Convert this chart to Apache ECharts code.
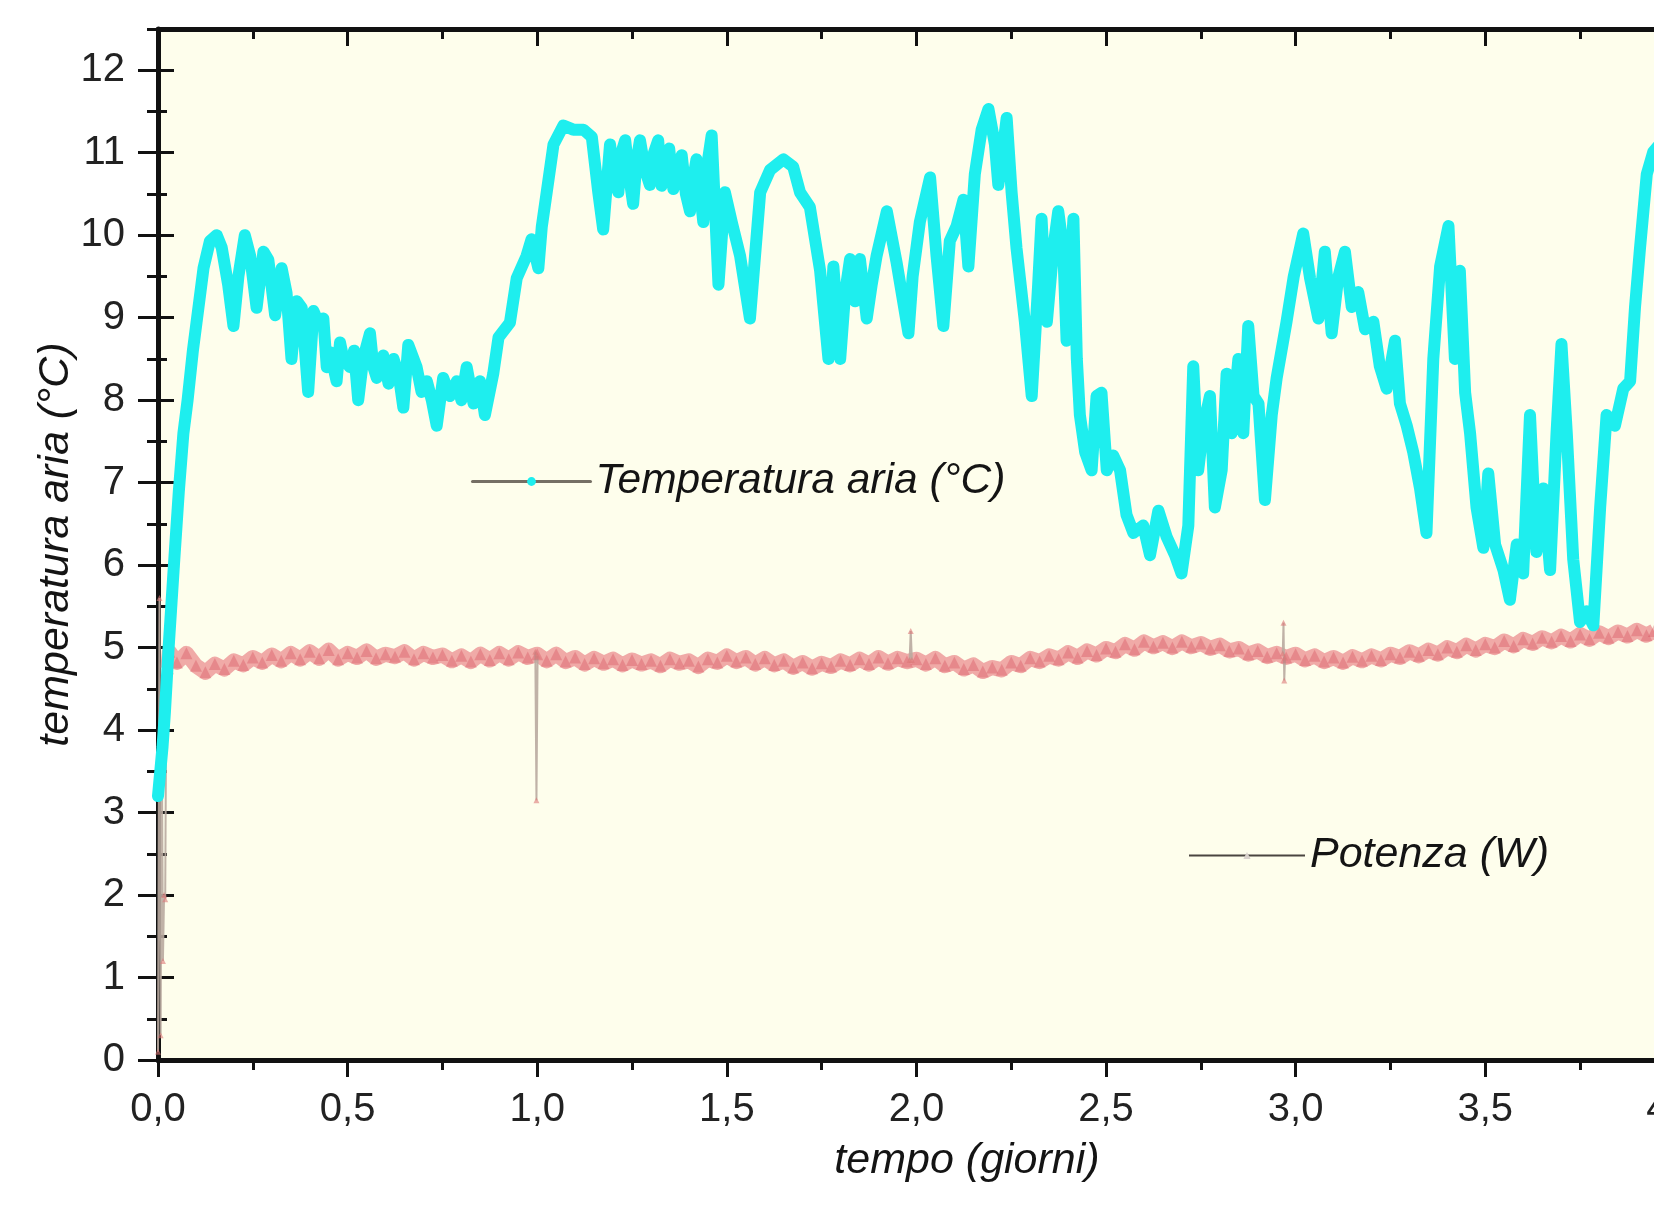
<!DOCTYPE html>
<html>
<head>
<meta charset="utf-8">
<script src="https://cdn.jsdelivr.net/npm/echarts@6/dist/echarts.min.js"></script>
<style>
  html, body { margin: 0; padding: 0; background: #fff; }
  #main { width: 1654px; height: 1206px; }
</style>
</head>
<body>
<div id="main"></div>
<script>
// temperatura aria (°C): [tempo in giorni, valore]
var temperatura = [
  [0.000, 3.2], [0.006, 3.5], [0.012, 3.8], [0.018, 4.2], [0.028, 5.0], [0.042, 6.0],
  [0.055, 6.9], [0.067, 7.6], [0.078, 8.0], [0.092, 8.6], [0.106, 9.1], [0.120, 9.6],
  [0.137, 9.93], [0.155, 10.0], [0.168, 9.85], [0.185, 9.4], [0.199, 8.9], [0.212, 9.5],
  [0.229, 10.0], [0.243, 9.75], [0.260, 9.12], [0.278, 9.8], [0.291, 9.7], [0.309, 9.03],
  [0.326, 9.6], [0.339, 9.3], [0.352, 8.5], [0.366, 9.2], [0.379, 9.12], [0.396, 8.1],
  [0.410, 9.08], [0.423, 8.94], [0.436, 8.99], [0.445, 8.4], [0.454, 8.58], [0.471, 8.23],
  [0.480, 8.7], [0.489, 8.5], [0.506, 8.4], [0.517, 8.6], [0.528, 8.0], [0.541, 8.5],
  [0.559, 8.81], [0.568, 8.4], [0.577, 8.27], [0.594, 8.54], [0.608, 8.2], [0.621, 8.5],
  [0.635, 8.3], [0.647, 7.91], [0.660, 8.67], [0.682, 8.4], [0.695, 8.1], [0.709, 8.23],
  [0.722, 8.0], [0.735, 7.69], [0.752, 8.27], [0.770, 8.05], [0.788, 8.23], [0.800, 8.0],
  [0.814, 8.4], [0.832, 7.96], [0.849, 8.23], [0.862, 7.82], [0.884, 8.32], [0.898, 8.76],
  [0.928, 8.94], [0.946, 9.48], [0.972, 9.75], [0.985, 9.95], [1.003, 9.6], [1.012, 10.1],
  [1.025, 10.52], [1.043, 11.1], [1.069, 11.33], [1.095, 11.28], [1.122, 11.28], [1.144, 11.19],
  [1.161, 10.52], [1.174, 10.07], [1.192, 11.1], [1.203, 10.7], [1.214, 10.52], [1.222, 11.0],
  [1.232, 11.15], [1.243, 10.7], [1.253, 10.38], [1.262, 10.9], [1.271, 11.15], [1.284, 10.8],
  [1.297, 10.61], [1.308, 11.0], [1.319, 11.15], [1.328, 10.6], [1.337, 10.74], [1.348, 11.05],
  [1.359, 10.56], [1.370, 10.8], [1.381, 10.97], [1.392, 10.5], [1.403, 10.29], [1.412, 10.7],
  [1.420, 10.92], [1.430, 10.5], [1.438, 10.16], [1.450, 10.9], [1.460, 11.21], [1.478, 9.4],
  [1.495, 10.52], [1.513, 10.16], [1.535, 9.75], [1.561, 8.99], [1.588, 10.52], [1.614, 10.79],
  [1.649, 10.92], [1.675, 10.83], [1.693, 10.52], [1.719, 10.34], [1.746, 9.57], [1.768, 8.5],
  [1.781, 9.62], [1.799, 8.5], [1.812, 9.3], [1.825, 9.71], [1.838, 9.2], [1.851, 9.71],
  [1.869, 8.99], [1.882, 9.4], [1.895, 9.75], [1.922, 10.29], [1.948, 9.66], [1.979, 8.81],
  [1.990, 9.5], [2.009, 10.16], [2.036, 10.7], [2.053, 9.75], [2.071, 8.9], [2.088, 9.93],
  [2.106, 10.11], [2.124, 10.43], [2.137, 9.62], [2.154, 10.74], [2.172, 11.28], [2.190, 11.53],
  [2.207, 11.1], [2.216, 10.61], [2.238, 11.42], [2.251, 10.52], [2.264, 9.84], [2.286, 8.95],
  [2.304, 8.05], [2.321, 9.4], [2.330, 10.2], [2.344, 8.95], [2.361, 9.84], [2.374, 10.29],
  [2.387, 9.84], [2.396, 8.72], [2.414, 10.2], [2.423, 8.5], [2.431, 7.82], [2.445, 7.37],
  [2.462, 7.15], [2.475, 8.05], [2.488, 8.09], [2.502, 7.15], [2.519, 7.33], [2.537, 7.15],
  [2.554, 6.61], [2.572, 6.39], [2.598, 6.48], [2.616, 6.12], [2.638, 6.66], [2.660, 6.34],
  [2.682, 6.12], [2.699, 5.9], [2.717, 6.48], [2.730, 8.41], [2.743, 7.15], [2.757, 7.69],
  [2.774, 8.05], [2.787, 6.7], [2.805, 7.15], [2.818, 8.32], [2.831, 7.6], [2.849, 8.5],
  [2.862, 7.6], [2.875, 8.9], [2.889, 8.05], [2.902, 7.96], [2.919, 6.79], [2.937, 7.82],
  [2.950, 8.27], [2.976, 8.95], [2.995, 9.5], [3.020, 10.02], [3.038, 9.48], [3.060, 8.99],
  [3.077, 9.8], [3.095, 8.81], [3.112, 9.48], [3.130, 9.8], [3.148, 9.13], [3.165, 9.31],
  [3.183, 8.86], [3.205, 8.95], [3.222, 8.41], [3.240, 8.14], [3.262, 8.72], [3.275, 7.96],
  [3.293, 7.69], [3.310, 7.37], [3.328, 6.93], [3.345, 6.39], [3.363, 8.5], [3.381, 9.62],
  [3.403, 10.11], [3.420, 8.5], [3.433, 9.57], [3.447, 8.09], [3.460, 7.6], [3.477, 6.7],
  [3.495, 6.21], [3.508, 7.11], [3.526, 6.25], [3.548, 5.94], [3.565, 5.58], [3.583, 6.25],
  [3.600, 5.9], [3.618, 7.82], [3.635, 6.16], [3.653, 6.93], [3.671, 5.94], [3.688, 7.6],
  [3.701, 8.68], [3.715, 7.6], [3.732, 6.07], [3.750, 5.31], [3.767, 5.44], [3.785, 5.27],
  [3.803, 6.7], [3.820, 7.82], [3.842, 7.69], [3.864, 8.14], [3.882, 8.23], [3.895, 9.13],
  [3.908, 9.84], [3.926, 10.74], [3.943, 11.01], [3.960, 11.1]
];

// potenza (W), banda principale: [tempo in giorni, valore]
var potenza = [
  [0.026, 4.75], [0.030, 4.95], [0.050, 4.82], [0.075, 4.93],
  [0.100, 4.78], [0.125, 4.70], [0.150, 4.80], [0.175, 4.74], [0.200, 4.84], [0.225, 4.79],
  [0.250, 4.88], [0.275, 4.82], [0.300, 4.91], [0.325, 4.84], [0.350, 4.93], [0.375, 4.86],
  [0.400, 4.95], [0.425, 4.87], [0.450, 4.97], [0.475, 4.86], [0.500, 4.93], [0.525, 4.88],
  [0.550, 4.96], [0.575, 4.87], [0.600, 4.92], [0.625, 4.89], [0.650, 4.95], [0.675, 4.86],
  [0.700, 4.93], [0.725, 4.88], [0.750, 4.91], [0.775, 4.84], [0.800, 4.90], [0.825, 4.83],
  [0.850, 4.92], [0.875, 4.85], [0.900, 4.93], [0.925, 4.86], [0.950, 4.94], [0.975, 4.88],
  [1.000, 4.92], [1.025, 4.84], [1.050, 4.92], [1.075, 4.83],
  [1.100, 4.88], [1.125, 4.80], [1.150, 4.87], [1.175, 4.81], [1.200, 4.86], [1.225, 4.79],
  [1.250, 4.85], [1.275, 4.80], [1.300, 4.84], [1.325, 4.78], [1.350, 4.86], [1.375, 4.81],
  [1.400, 4.84], [1.425, 4.77], [1.450, 4.86], [1.475, 4.82], [1.500, 4.90], [1.525, 4.83],
  [1.550, 4.88], [1.575, 4.80], [1.600, 4.87], [1.625, 4.79], [1.650, 4.84], [1.675, 4.76],
  [1.700, 4.82], [1.725, 4.75], [1.750, 4.81], [1.775, 4.77], [1.800, 4.84], [1.825, 4.79],
  [1.850, 4.86], [1.875, 4.80], [1.900, 4.88], [1.925, 4.81], [1.950, 4.87], [1.975, 4.83],
  [2.000, 4.86], [2.025, 4.80], [2.050, 4.87], [2.075, 4.78],
  [2.100, 4.82], [2.125, 4.74], [2.150, 4.79], [2.175, 4.71], [2.200, 4.76], [2.225, 4.73],
  [2.250, 4.82], [2.275, 4.78], [2.300, 4.87], [2.325, 4.83], [2.350, 4.90], [2.375, 4.86],
  [2.400, 4.94], [2.425, 4.88], [2.450, 4.96], [2.475, 4.91], [2.500, 4.99], [2.525, 4.95],
  [2.550, 5.04], [2.575, 4.98], [2.600, 5.07], [2.625, 5.01], [2.650, 5.06], [2.675, 5.00],
  [2.700, 5.07], [2.725, 5.01], [2.750, 5.05], [2.775, 4.99], [2.800, 5.03], [2.825, 4.96],
  [2.850, 4.99], [2.875, 4.92], [2.900, 4.96], [2.925, 4.89], [2.950, 4.93],
  [2.975, 4.88], [3.000, 4.92], [3.025, 4.85], [3.050, 4.90], [3.075, 4.83],
  [3.100, 4.88], [3.125, 4.82], [3.150, 4.89], [3.175, 4.84], [3.200, 4.90], [3.225, 4.85],
  [3.250, 4.92], [3.275, 4.88], [3.300, 4.95], [3.325, 4.90], [3.350, 4.97], [3.375, 4.92],
  [3.400, 5.00], [3.425, 4.95], [3.450, 5.03], [3.475, 4.97], [3.500, 5.04], [3.525, 5.00],
  [3.550, 5.08], [3.575, 5.02], [3.600, 5.10], [3.625, 5.05], [3.650, 5.12], [3.675, 5.07],
  [3.700, 5.14], [3.725, 5.08], [3.750, 5.16], [3.775, 5.10], [3.800, 5.18], [3.825, 5.12],
  [3.850, 5.19], [3.875, 5.14], [3.900, 5.21], [3.925, 5.15], [3.945, 5.20]
];

// potenza (W), picchi isolati (segmenti separati da '-')
var potenzaPicchi = [
  [0.000, 0.1], [0.004, 5.6], [0.007, 0.3], [0.010, 3.9], [0.013, 1.2], [0.016, 2.0],
  [0.019, 1.95], [0.022, 4.6], [0.026, 4.75], ['-', '-'],
  [0.995, 4.95], [0.998, 3.15], [1.001, 4.9], ['-', '-'],
  [1.982, 4.85], [1.985, 5.2], [1.988, 4.85], ['-', '-'],
  [2.966, 4.93], [2.968, 5.3], [2.970, 4.6], [2.972, 4.88]
];

var yMajorTicks = [0, 1, 2, 3, 4, 5, 6, 7, 8, 9, 10, 11, 12];
var yMinorTicks = [0.5, 1.5, 2.5, 3.5, 4.5, 5.5, 6.5, 7.5, 8.5, 9.5, 10.5, 11.5, 12.5];
var xMajorTicks = [0, 0.5, 1.0, 1.5, 2.0, 2.5, 3.0, 3.5];
var xMinorTicks = [0.25, 0.75, 1.25, 1.75, 2.25, 2.75, 3.25, 3.75];

var FONT = 'Liberation Sans, Arial, sans-serif';
var X_MAX = 3.945;   // bordo destro dell'immagine (il grafico originale prosegue oltre)
var plot = { left: 158, top: 29, right: 0, height: 1031 };

function gridAt(show) {
  return {
    left: plot.left, top: plot.top, right: plot.right, height: plot.height,
    show: show, backgroundColor: '#fefeec', borderWidth: 0
  };
}

function tickX(idx, pos, inside, len, ticks) {
  return {
    type: 'value', gridIndex: idx, position: pos, min: 0, max: X_MAX,
    axisLine: { show: false },
    axisTick: { show: true, inside: inside, length: len, customValues: ticks,
      lineStyle: { color: '#111', width: 3 } },
    axisLabel: { show: false },
    splitLine: { show: false }
  };
}

function hiddenX(idx) {
  return { type: 'value', gridIndex: idx, min: 0, max: X_MAX, show: false };
}

function tickY(idx, inside, len, ticks) {
  return {
    type: 'value', gridIndex: idx, position: 'left', min: 0, max: 12.5,
    axisLine: { show: false },
    axisTick: { show: true, inside: inside, length: len, customValues: ticks,
      lineStyle: { color: '#111', width: 3 } },
    axisLabel: { show: false },
    splitLine: { show: false }
  };
}

var myChart = echarts.init(document.getElementById('main'));

var option = {
  backgroundColor: '#ffffff',
  animation: false,
  grid: [gridAt(true), gridAt(false), gridAt(false), gridAt(false)],
  legend: [
    {
      left: 466, top: 455,
      itemWidth: 118, itemHeight: 11,
      data: [{ name: 'Temperatura aria (°C)' }],
      lineStyle: { color: '#756f64', width: 3 },
      textStyle: { fontFamily: FONT, fontStyle: 'italic', fontSize: 42.5, color: '#141414' },
      selectedMode: false
    },
    {
      left: 1183, top: 829,
      itemWidth: 116, itemHeight: 9,
      data: [{ name: 'Potenza (W)', itemStyle: { color: '#d9d2cc' } }],
      lineStyle: { color: '#4a4540', width: 2 },
      textStyle: { fontFamily: FONT, fontStyle: 'italic', fontSize: 43, color: '#141414' },
      selectedMode: false
    }
  ],
  graphic: [
    {
      type: 'text', x: 967, y: 1161,
      style: { text: 'tempo (giorni)', fontFamily: FONT, fontStyle: 'italic', fontSize: 43,
        fill: '#141414', textAlign: 'center', textVerticalAlign: 'middle' }
    },
    {
      // etichetta 4,0 tagliata dal bordo destro, come nell'originale
      type: 'text', x: 1674, y: 1110,
      style: { text: '4,0', fontFamily: FONT, fontSize: 40, fill: '#222',
        textAlign: 'center', textVerticalAlign: 'middle' }
    }
  ],
  xAxis: [
    {
      type: 'value', gridIndex: 0, position: 'bottom', min: 0, max: X_MAX,
      axisLine: { show: true, onZero: false, lineStyle: { color: '#111', width: 5 } },
      axisTick: { show: true, inside: false, length: 17, customValues: xMajorTicks,
        lineStyle: { color: '#111', width: 3 } },
      axisLabel: {
        margin: 30, fontFamily: FONT, fontSize: 40, color: '#222', customValues: xMajorTicks,
        formatter: function (v) { return v.toFixed(1).replace('.', ','); }
      },
      splitLine: { show: false }
    },
    {
      type: 'value', gridIndex: 0, position: 'top', min: 0, max: X_MAX,
      axisLine: { show: true, onZero: false, lineStyle: { color: '#111', width: 5 } },
      axisTick: { show: true, inside: true, length: 17, customValues: xMajorTicks,
        lineStyle: { color: '#111', width: 3 } },
      axisLabel: { show: false },
      splitLine: { show: false }
    },
    tickX(1, 'bottom', false, 10, xMinorTicks),
    tickX(1, 'top', true, 10, xMinorTicks),
    hiddenX(2), hiddenX(3)
  ],
  yAxis: [
    {
      type: 'value', gridIndex: 0, position: 'left', min: 0, max: 12.5,
      name: 'temperatura aria (°C)', nameLocation: 'middle', nameGap: 80,
      nameMoveOverlap: false,
      nameTextStyle: { fontFamily: FONT, fontStyle: 'italic', fontSize: 43, color: '#141414' },
      axisLine: { show: true, onZero: false, lineStyle: { color: '#111', width: 5 } },
      axisTick: { show: true, inside: false, length: 20, customValues: yMajorTicks,
        lineStyle: { color: '#111', width: 3 } },
      axisLabel: {
        margin: 33, fontFamily: FONT, fontSize: 40, color: '#222', customValues: yMajorTicks
      },
      splitLine: { show: false }
    },
    tickY(1, true, 16, yMajorTicks),
    tickY(2, false, 11, yMinorTicks),
    tickY(3, true, 9, yMinorTicks)
  ],
  series: [
    {
      name: 'Potenza (W)',
      type: 'line',
      xAxisIndex: 0, yAxisIndex: 0,
      data: potenza,
      symbol: 'triangle',
      symbolSize: 12,
      showSymbol: true,
      itemStyle: { color: 'rgba(212, 74, 88, 0.35)' },
      lineStyle: { color: 'rgba(228, 100, 112, 0.55)', width: 15, join: 'round' },
      z: 2
    },
    {
      name: 'Potenza (W)',
      type: 'line',
      xAxisIndex: 0, yAxisIndex: 0,
      data: potenzaPicchi,
      connectNulls: false,
      symbol: 'triangle',
      symbolSize: 6,
      showSymbol: true,
      itemStyle: { color: 'rgba(220, 120, 120, 0.6)' },
      lineStyle: { color: 'rgba(185, 170, 160, 0.9)', width: 2 },
      z: 2
    },
    {
      name: 'Temperatura aria (°C)',
      type: 'line',
      xAxisIndex: 0, yAxisIndex: 0,
      data: temperatura,
      symbol: 'circle',
      showSymbol: false,
      itemStyle: { color: '#1eeeee' },
      lineStyle: { color: '#1eeeee', width: 12, join: 'round', cap: 'round' },
      z: 3
    }
  ]
};

myChart.setOption(option);
</script>
</body>
</html>
